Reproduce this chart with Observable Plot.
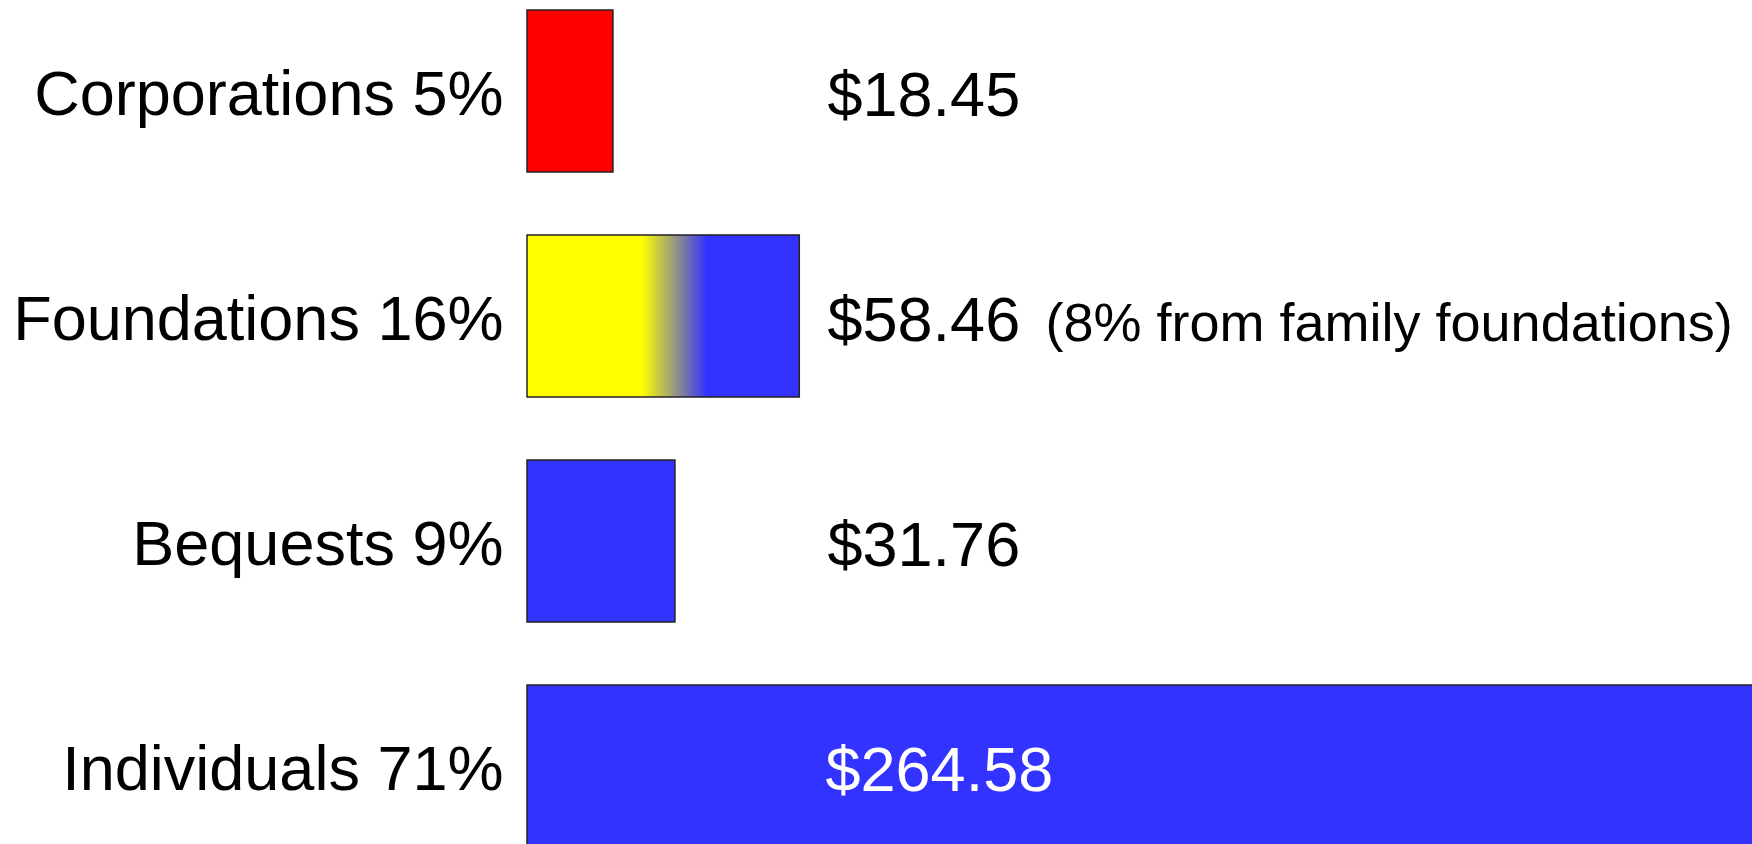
<!DOCTYPE html>
<html><head><meta charset="utf-8">
<script src="https://cdn.jsdelivr.net/npm/d3@7"></script>
<script src="https://cdn.jsdelivr.net/npm/@observablehq/plot@0.6"></script>
<style>html,body{margin:0;padding:0;background:#fff;overflow:hidden}</style>
</head><body><div id="chart"></div>
<script>
const categories = ["Corporations", "Foundations", "Bequests", "Individuals"];
const percents = [5, 16, 9, 71];
const amounts = [18.45, 58.46, 31.76, 264.58];
const notes = ["", "(8% from family foundations)", "", ""];

const rows = categories.map((c, i) => ({category: c, percent: percents[i], amount: amounts[i], note: notes[i]}));
const label = new Map(rows.map(d => [d.category, `${d.category} ${d.percent}%`]));
const fmt = d => "$" + d.amount.toFixed(2);

const chart = Plot.plot({
  width: 1752, height: 857,
  marginLeft: 527, marginRight: 0, marginTop: 0, marginBottom: 0,
  style: {fontFamily: '"Liberation Sans", Arial, sans-serif', background: "#fff", overflow: "hidden"},
  x: {domain: [0, 263], axis: null},
  y: {type: "band", domain: categories, paddingInner: 0.28, paddingOuter: 0.0444, axis: null, label: null},
  color: {domain: categories, range: ["#FF0000", "url(#foundationsGradient)", "#3333FF", "#3333FF"]},
  marks: [
    Plot.barX(rows, {x: "amount", y: "category", fill: "category", stroke: "#222", strokeWidth: 1.5}),
    Plot.axisY({tickSize: 0, tickPadding: 24, fontSize: 63, tickFormat: d => label.get(d), dy: 3, label: null, fill: "#000"}),
    Plot.text(rows.filter(d => d.category !== "Individuals"), {y: "category", frameAnchor: "left", dx: 300, dy: 24, lineAnchor: "bottom", textAnchor: "start", text: fmt, fontSize: 63, fill: "#000"}),
    Plot.text(rows.filter(d => d.category === "Individuals"), {y: "category", frameAnchor: "left", dx: 298, dy: 24, lineAnchor: "bottom", textAnchor: "start", text: fmt, fontSize: 63, fill: "#fff"}),
    Plot.text(rows.filter(d => d.note), {y: "category", frameAnchor: "left", dx: 518, dy: 24, lineAnchor: "bottom", textAnchor: "start", text: "note", fontSize: 54, fill: "#000"})
  ]
});

const grad = d3.select(chart).insert("defs", ":first-child")
  .append("linearGradient").attr("id", "foundationsGradient")
  .attr("x1", "0").attr("x2", "1").attr("y1", "0").attr("y2", "0");
[[0, "#FFFF00"], [0.42, "#FFFF00"], [0.66, "#3333FF"], [1, "#3333FF"]].forEach(([o, c]) =>
  grad.append("stop").attr("offset", o).attr("stop-color", c));

document.getElementById("chart").appendChild(chart);
</script>
</body></html>
